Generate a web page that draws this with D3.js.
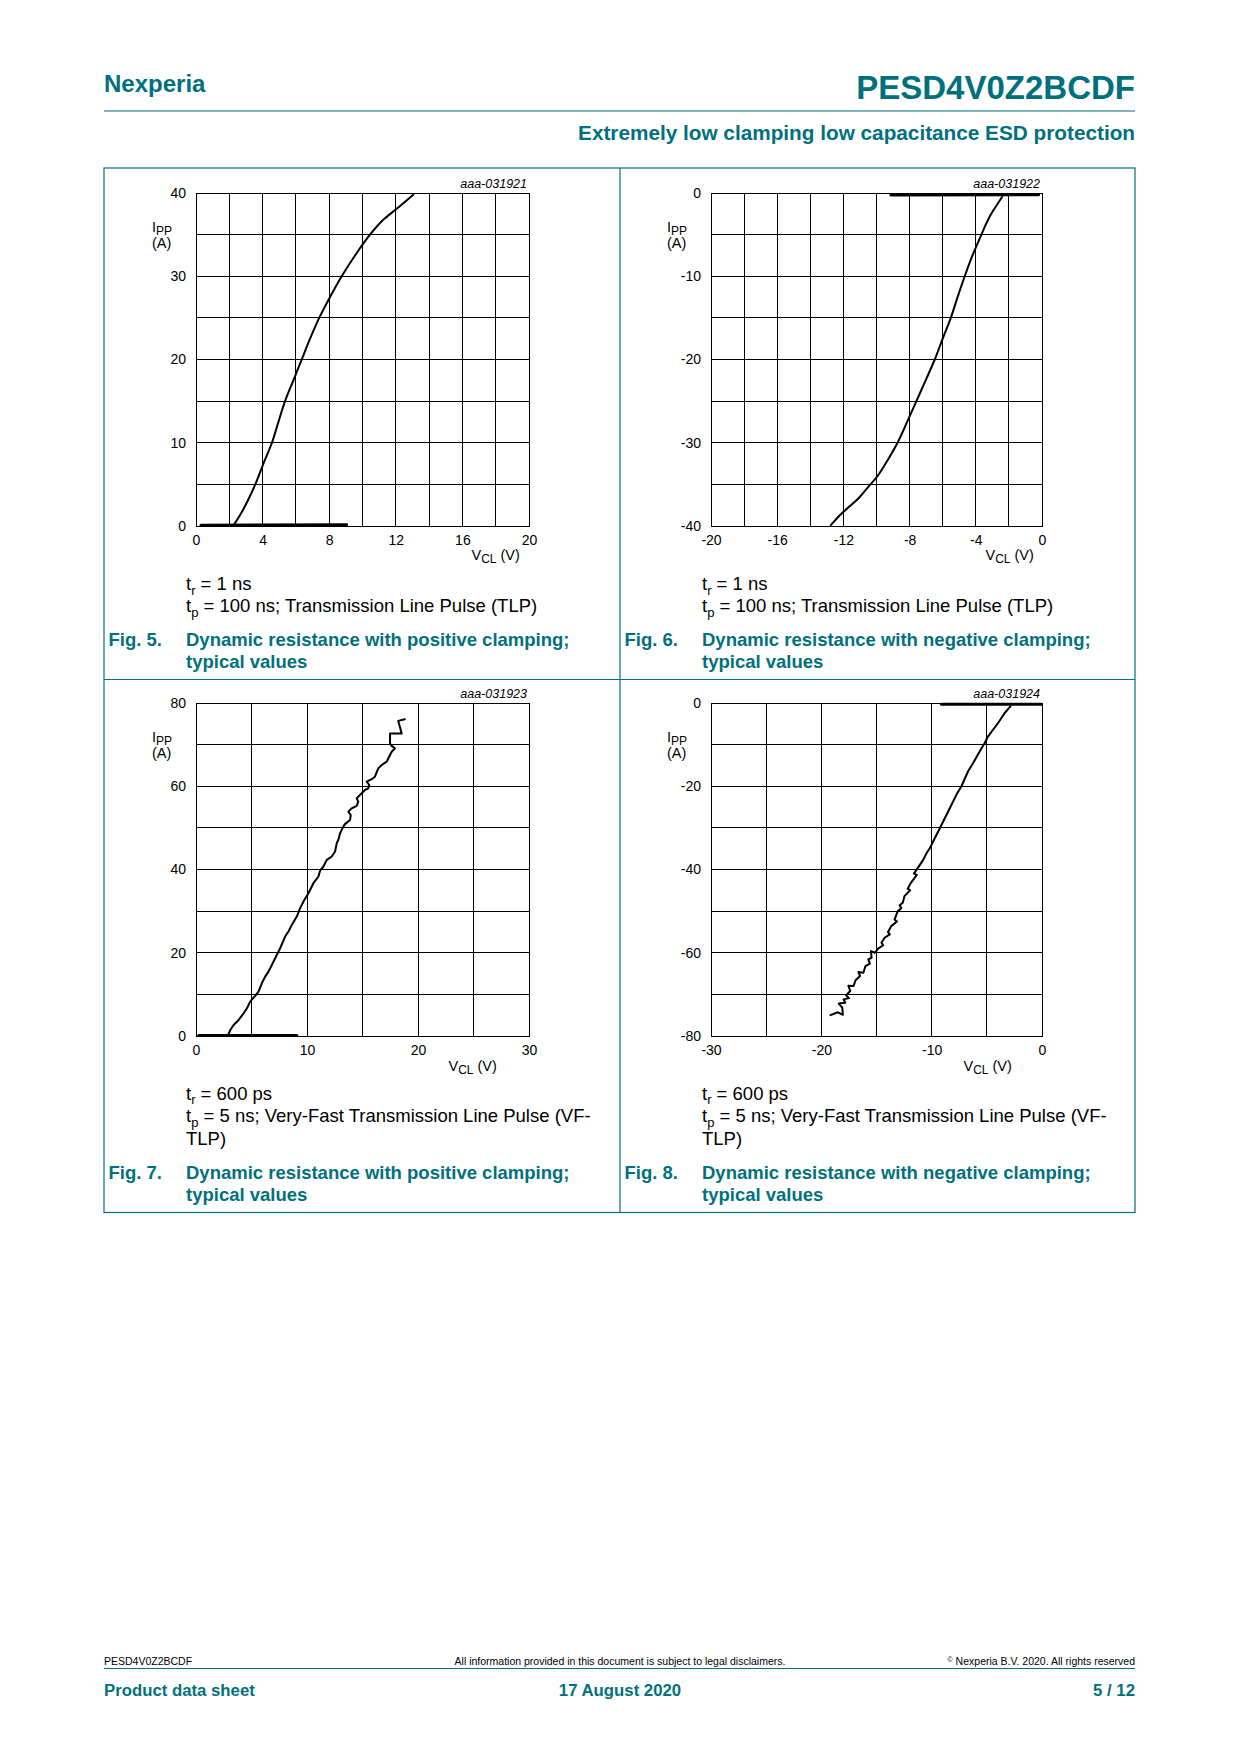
<!DOCTYPE html>
<html>
<head>
<meta charset="utf-8">
<script src="https://cdn.jsdelivr.net/npm/d3@7"></script>
<style>
  html, body { margin: 0; padding: 0; background: #fff; }
  svg { display: block; }
</style>
</head>
<body>
<script>
// ---------------- DATA ----------------
// Fig. 5 : positive clamping, TLP
const fig5XGrid  = [0, 2, 4, 6, 8, 10, 12, 14, 16, 18, 20];
const fig5XTicks = [0, 4, 8, 12, 16, 20];
const fig5YGrid  = [0, 5, 10, 15, 20, 25, 30, 35, 40];
const fig5YTicks = [0, 10, 20, 30, 40];
const fig5Leak   = [[0.3, 0.1], [9.05, 0.15]];
const fig5Curve  = [[2.32, 0.28], [2.7, 1.5], [3.1, 3.0], [3.56, 5.0], [4.05, 7.5], [4.56, 10.0], [4.95, 12.5],
                    [5.35, 15.0], [5.85, 17.5], [6.35, 20.0], [6.85, 22.5], [7.4, 25.0], [8.05, 27.5],
                    [8.75, 30.0], [9.55, 32.5], [10.45, 35.0], [11.2, 36.7], [12.05, 38.1], [13.05, 39.8]];

// Fig. 6 : negative clamping, TLP
const fig6XGrid  = [-20, -18, -16, -14, -12, -10, -8, -6, -4, -2, 0];
const fig6XTicks = [-20, -16, -12, -8, -4, 0];
const fig6YGrid  = [-40, -35, -30, -25, -20, -15, -10, -5, 0];
const fig6YTicks = [-40, -30, -20, -10, 0];
const fig6Leak   = [[-9.13, -0.24], [-0.2, -0.22]];
const fig6Curve  = [[-2.41, -0.48], [-2.75, -1.5], [-3.1, -2.6], [-3.4, -3.8], [-3.66, -5.0], [-4.2, -7.5],
                    [-4.67, -10.0], [-5.1, -12.5], [-5.51, -15.0], [-6.0, -17.5], [-6.48, -20.0], [-7.03, -22.5],
                    [-7.59, -25.0], [-8.15, -27.5], [-8.73, -30.0], [-9.3, -32.0], [-9.9, -33.9], [-10.5, -35.3],
                    [-11.1, -36.7], [-11.6, -37.6], [-12.11, -38.5], [-12.76, -39.9]];

// Fig. 7 : positive clamping, VF-TLP
const fig7XGrid  = [0, 5, 10, 15, 20, 25, 30];
const fig7XTicks = [0, 10, 20, 30];
const fig7YGrid  = [0, 10, 20, 30, 40, 50, 60, 70, 80];
const fig7YTicks = [0, 20, 40, 60, 80];
const fig7Leak   = [[0.24, 0.15], [9.08, 0.15]];
const fig7Curve  = [[2.94, 0.48], [3.09, 1.44], [3.39, 2.65], [3.84, 3.85], [4.29, 5.45], [4.59, 6.65],
                    [4.88, 8.26], [5.33, 9.62], [5.63, 10.66], [5.93, 12.67], [6.23, 14.27], [6.53, 15.47],
                    [6.83, 17.07], [7.13, 18.68], [7.58, 21.08], [8.03, 23.89], [8.33, 25.09], [8.63, 26.69],
                    [9.08, 28.7], [9.38, 30.7], [9.68, 32.3], [10.13, 34.31], [10.58, 36.71], [11.03, 38.32],
                    [11.18, 39.76], [11.48, 40.72], [11.78, 42.32], [12.23, 43.13], [12.53, 44.33],
                    [12.68, 46.33], [12.82, 47.1], [12.98, 48.7], [13.27, 50.3], [13.42, 50.9], [13.88, 51.9],
                    [13.94, 53.1], [13.72, 53.9], [14.03, 54.7], [14.48, 55.3], [14.62, 56.3], [14.48, 57.1],
                    [14.93, 58.3], [15.22, 59.1], [15.52, 59.5], [15.61, 60.3], [15.38, 61.1], [15.83, 61.7],
                    [16.12, 62.3], [16.42, 64.3], [16.73, 65.1], [17.18, 65.9], [17.48, 67.5], [17.63, 68.3],
                    [17.92, 69.1], [17.63, 69.7], [17.48, 70.3], [17.48, 72.7], [18.53, 72.7], [18.22, 75.7],
                    [18.82, 76.1]];

// Fig. 8 : negative clamping, VF-TLP
const fig8XGrid  = [-30, -25, -20, -15, -10, -5, 0];
const fig8XTicks = [-30, -20, -10, 0];
const fig8YGrid  = [-80, -70, -60, -50, -40, -30, -20, -10, 0];
const fig8YTicks = [-80, -60, -40, -20, 0];
const fig8Leak   = [[-9.11, -0.32], [-0.06, -0.32]];
const fig8Curve  = [[-2.86, -0.8], [-3.38, -2.4], [-3.98, -4.8], [-4.89, -8.0], [-5.19, -9.6], [-5.64, -11.6],
                    [-6.24, -14.4], [-6.7, -16.4], [-7.3, -20.0], [-7.75, -22.0], [-8.36, -25.3], [-8.81, -27.7],
                    [-9.26, -30.1], [-9.72, -32.5], [-10.17, -34.9], [-10.47, -36.1], [-10.77, -37.7],
                    [-11.07, -38.9], [-11.38, -40.1], [-11.6, -41.0], [-11.35, -41.3], [-11.88, -43.2],
                    [-12.17, -44.6], [-11.95, -45.0], [-12.47, -46.4], [-12.62, -48.0], [-12.9, -48.6],
                    [-12.75, -49.3], [-13.07, -50.0], [-13.36, -52.0], [-13.15, -52.5], [-13.66, -53.6],
                    [-13.96, -55.0], [-13.8, -55.6], [-14.26, -56.4], [-14.55, -57.6], [-14.4, -58.2],
                    [-14.85, -59.0], [-15.15, -60.0], [-15.5, -59.6], [-15.45, -61.2], [-15.74, -61.6],
                    [-15.6, -62.6], [-16.0, -63.2], [-16.19, -64.8], [-16.64, -64.6], [-16.49, -65.6],
                    [-16.9, -66.6], [-17.08, -68.0], [-17.55, -67.9], [-17.38, -69.2], [-17.75, -70.2],
                    [-17.5, -70.9], [-17.98, -71.2], [-17.83, -72.0], [-18.42, -72.2], [-18.1, -73.2],
                    [-18.05, -74.9], [-18.5, -74.3], [-19.17, -75.0]];

// Texts
const docTitle   = "PESD4V0Z2BCDF";
const brand      = "Nexperia";
const subtitle   = "Extremely low clamping low capacitance ESD protection";
const figCodes   = ["aaa-031921", "aaa-031922", "aaa-031923", "aaa-031924"];
const figNumbers = ["Fig. 5.", "Fig. 6.", "Fig. 7.", "Fig. 8."];
const figTitles  = [
  ["Dynamic resistance with positive clamping;", "typical values"],
  ["Dynamic resistance with negative clamping;", "typical values"],
  ["Dynamic resistance with positive clamping;", "typical values"],
  ["Dynamic resistance with negative clamping;", "typical values"]
];
const notesTLP = [
  [{t: "t"}, {t: "r", sub: true}, {t: " = 1 ns"}],
  [{t: "t"}, {t: "p", sub: true}, {t: " = 100 ns; Transmission Line Pulse (TLP)"}]
];
const notesVF = [
  [{t: "t"}, {t: "r", sub: true}, {t: " = 600 ps"}],
  [{t: "t"}, {t: "p", sub: true}, {t: " = 5 ns; Very-Fast Transmission Line Pulse (VF-"}],
  [{t: "TLP)"}]
];
const footerLeft   = "PESD4V0Z2BCDF";
const footerMid    = "All information provided in this document is subject to legal disclaimers.";
const footerRight  = "Nexperia B.V. 2020. All rights reserved";
const bottomLeft   = "Product data sheet";
const bottomMid    = "17 August 2020";
const bottomRight  = "5 / 12";

// ---------------- DRAWING ----------------
const W = 1240, H = 1754;
const TEAL = "#00717c";
const FONT = '"Liberation Sans", Arial, Helvetica, sans-serif';

const svg = d3.select("body").append("svg")
  .attr("width", W).attr("height", H)
  .attr("font-family", FONT);
svg.append("rect").attr("width", W).attr("height", H).attr("fill", "#fff");

function richText(g, x, y, parts, opts) {
  const t = g.append("text").attr("x", x).attr("y", y)
    .attr("font-size", opts.size).attr("fill", opts.fill || "#000");
  if (opts.anchor) t.attr("text-anchor", opts.anchor);
  if (opts.weight) t.attr("font-weight", opts.weight);
  let shifted = 0;
  parts.forEach(p => {
    const s = t.append("tspan").text(p.t);
    if (p.sub) {
      s.attr("font-size", opts.subSize).attr("dy", opts.subDy - shifted);
      shifted = opts.subDy;
    } else if (p.sup) {
      s.attr("font-size", opts.supSize).attr("dy", -opts.supDy - shifted);
      shifted = -opts.supDy;
    } else if (shifted !== 0) {
      s.attr("dy", -shifted);
      shifted = 0;
    }
  });
  return t;
}

// Header
svg.append("text").attr("x", 104).attr("y", 92).attr("font-size", 24).attr("font-weight", "bold")
  .attr("fill", TEAL).text(brand);
svg.append("text").attr("x", 1135).attr("y", 99).attr("font-size", 33).attr("font-weight", "bold")
  .attr("text-anchor", "end").attr("fill", TEAL).text(docTitle);
svg.append("line").attr("x1", 104).attr("x2", 1135).attr("y1", 111).attr("y2", 111)
  .attr("stroke", TEAL).attr("stroke-width", 1.2);
svg.append("text").attr("x", 1135).attr("y", 140).attr("font-size", 20.75).attr("font-weight", "bold")
  .attr("text-anchor", "end").attr("fill", TEAL).text(subtitle);

// Frame of figures
const frame = svg.append("g").attr("fill", "none").attr("stroke", TEAL).attr("stroke-width", 1.2);
frame.append("rect").attr("x", 104).attr("y", 168).attr("width", 1031).attr("height", 1044.5);
frame.append("line").attr("x1", 620).attr("x2", 620).attr("y1", 168).attr("y2", 1212.5);
frame.append("line").attr("x1", 104).attr("x2", 1135).attr("y1", 679.5).attr("y2", 679.5);

const panels = [
  {left: 196, top: 193, right: 529, bottom: 526, xDom: [0, 20], yDom: [0, 40],
   xGrid: fig5XGrid, xTicks: fig5XTicks, yGrid: fig5YGrid, yTicks: fig5YTicks,
   leak: fig5Leak, curve: fig5Curve, smooth: true, code: figCodes[0], vclX: 471.5, vclY: 560,
   px: 104, notes: notesTLP, noteY: [590, 612], capY: [645.5, 668], num: figNumbers[0], title: figTitles[0]},
  {left: 711, top: 193, right: 1042, bottom: 526, xDom: [-20, 0], yDom: [-40, 0],
   xGrid: fig6XGrid, xTicks: fig6XTicks, yGrid: fig6YGrid, yTicks: fig6YTicks,
   leak: fig6Leak, curve: fig6Curve, smooth: true, code: figCodes[1], vclX: 985.5, vclY: 560,
   px: 620, notes: notesTLP, noteY: [590, 612], capY: [645.5, 668], num: figNumbers[1], title: figTitles[1]},
  {left: 196, top: 703, right: 529, bottom: 1036, xDom: [0, 30], yDom: [0, 80],
   xGrid: fig7XGrid, xTicks: fig7XTicks, yGrid: fig7YGrid, yTicks: fig7YTicks,
   leak: fig7Leak, curve: fig7Curve, smooth: false, code: figCodes[2], vclX: 448.5, vclY: 1070.5,
   px: 104, notes: notesVF, noteY: [1099.5, 1122, 1144.5], capY: [1178.5, 1200.5], num: figNumbers[2], title: figTitles[2]},
  {left: 711, top: 703, right: 1042, bottom: 1036, xDom: [-30, 0], yDom: [-80, 0],
   xGrid: fig8XGrid, xTicks: fig8XTicks, yGrid: fig8YGrid, yTicks: fig8YTicks,
   leak: fig8Leak, curve: fig8Curve, smooth: false, code: figCodes[3], vclX: 963.5, vclY: 1070.5,
   px: 620, notes: notesVF, noteY: [1099.5, 1122, 1144.5], capY: [1178.5, 1200.5], num: figNumbers[3], title: figTitles[3]}
];

panels.forEach(p => {
  const g = svg.append("g");
  const x = d3.scaleLinear().domain(p.xDom).range([p.left, p.right]);
  const y = d3.scaleLinear().domain(p.yDom).range([p.bottom, p.top]);

  // grid
  const grid = g.append("g").attr("stroke", "#000").attr("stroke-width", 1).attr("shape-rendering", "crispEdges");
  grid.selectAll("line.v").data(p.xGrid).join("line").attr("class", "v")
    .attr("x1", d => x(d)).attr("x2", d => x(d)).attr("y1", p.top).attr("y2", p.bottom);
  grid.selectAll("line.h").data(p.yGrid).join("line").attr("class", "h")
    .attr("y1", d => y(d)).attr("y2", d => y(d)).attr("x1", p.left).attr("x2", p.right);
  grid.append("rect").attr("x", p.left).attr("y", p.top)
    .attr("width", p.right - p.left).attr("height", p.bottom - p.top).attr("fill", "none");

  // axes labels (hyphen-minus as in the reference)
  const fmt = d => String(d);
  const ax = g.append("g").attr("transform", `translate(0,${p.bottom})`)
    .call(d3.axisBottom(x).tickValues(p.xTicks).tickSize(0).tickPadding(9).tickFormat(fmt));
  const ay = g.append("g").attr("transform", `translate(${p.left},0)`)
    .call(d3.axisLeft(y).tickValues(p.yTicks).tickSize(0).tickPadding(10).tickFormat(fmt));
  [ax, ay].forEach(a => {
    a.select(".domain").remove();
    a.selectAll("text").attr("font-size", 14).attr("font-family", FONT).attr("fill", "#000");
  });

  // code
  g.append("text").attr("x", p.right - 2).attr("y", p.top - 5.5).attr("text-anchor", "end")
    .attr("font-size", 12.5).attr("font-style", "italic").attr("fill", "#000").text(p.code);

  // IPP (A)
  richText(g, p.left - 44, p.top + 39, [{t: "I"}, {t: "PP", sub: true}], {size: 14.5, subSize: 12, subDy: 2.5});
  g.append("text").attr("x", p.left - 44).attr("y", p.top + 55).attr("font-size", 14.5).text("(A)");
  // VCL (V)
  richText(g, p.vclX, p.vclY, [{t: "V"}, {t: "CL", sub: true}, {t: " (V)"}], {size: 14.5, subSize: 12, subDy: 3});

  // data lines
  const line = d3.line().x(d => x(d[0])).y(d => y(d[1]))
    .curve(p.smooth ? d3.curveCatmullRom.alpha(0.5) : d3.curveLinear);
  g.append("path").datum(p.leak).attr("d", line).attr("fill", "none")
    .attr("stroke", "#000").attr("stroke-width", 3).attr("stroke-linecap", "round");
  g.append("path").datum(p.curve).attr("d", line).attr("fill", "none")
    .attr("stroke", "#000").attr("stroke-width", 2).attr("stroke-linejoin", "round").attr("stroke-linecap", "round");

  // notes
  p.notes.forEach((parts, i) => {
    richText(g, p.px + 82, p.noteY[i], parts, {size: 18.5, subSize: 13, subDy: 4.5});
  });
  // caption
  g.append("text").attr("x", p.px + 4.5).attr("y", p.capY[0]).attr("font-size", 18.5)
    .attr("font-weight", "bold").attr("fill", TEAL).text(p.num);
  p.title.forEach((s, i) => {
    g.append("text").attr("x", p.px + 82).attr("y", p.capY[i]).attr("font-size", 18.5)
      .attr("font-weight", "bold").attr("fill", TEAL).text(s);
  });
});

// Footer
svg.append("text").attr("x", 104).attr("y", 1664.5).attr("font-size", 10.5).text(footerLeft);
svg.append("text").attr("x", 620).attr("y", 1664.5).attr("font-size", 10.5).attr("text-anchor", "middle").text(footerMid);
richText(svg, 1135, 1664.5, [{t: "©", sup: true}, {t: " " + footerRight}],
  {size: 10.5, anchor: "end", supSize: 7, supDy: 3});
svg.append("line").attr("x1", 104).attr("x2", 1135).attr("y1", 1668.5).attr("y2", 1668.5)
  .attr("stroke", TEAL).attr("stroke-width", 1.2);
svg.append("text").attr("x", 104).attr("y", 1695.5).attr("font-size", 16.75).attr("font-weight", "bold")
  .attr("fill", TEAL).text(bottomLeft);
svg.append("text").attr("x", 620).attr("y", 1695.5).attr("font-size", 16.75).attr("font-weight", "bold")
  .attr("text-anchor", "middle").attr("fill", TEAL).text(bottomMid);
svg.append("text").attr("x", 1135).attr("y", 1695.5).attr("font-size", 16.75).attr("font-weight", "bold")
  .attr("text-anchor", "end").attr("fill", TEAL).text(bottomRight);
</script>
</body>
</html>
